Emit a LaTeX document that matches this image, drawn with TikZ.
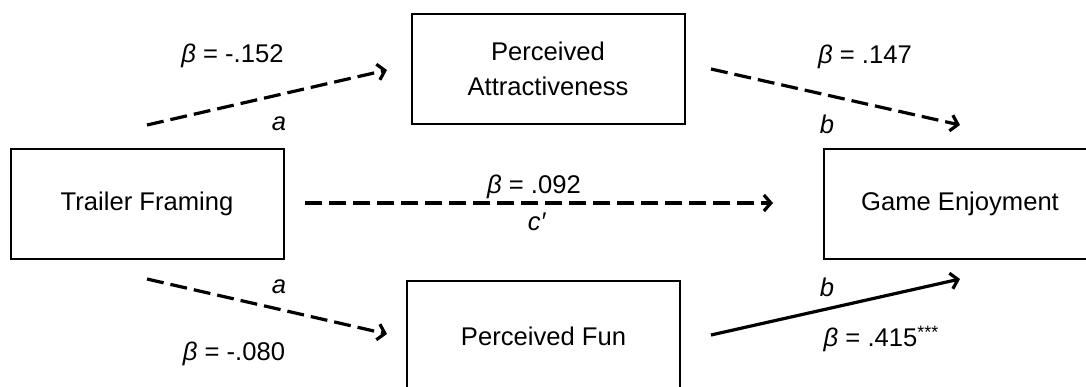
\documentclass[tikz,border=0pt]{standalone}
\usepackage{fontspec}
\setmainfont{Liberation Sans}
\usetikzlibrary{arrows.meta}
\tikzset{
  var/.style={draw, line width=1pt, minimum width=136.5pt, minimum height=55pt, inner sep=0pt, align=center},
  effect/.style={line width=1.6pt, line cap=butt, -{Straight Barb[length=3.5pt,width=8pt,line join=miter]}},
  nseffect/.style={effect, dash pattern=on 8.5pt off 3.5pt},
  coef/.style={inner sep=0pt},
  >=Stealth
}

\begin{document}
\begin{tikzpicture}[x=0.5pt, y=-0.5pt, every node/.style={font=\fontsize{12.8}{17.5}\selectfont}]
  \clip (0,0) rectangle (1086,386);
  % variables
  \node[var] (tf) at (147,203.5) {Trailer Framing};
  \node[var] (pa) at (548,69) {Perceived\\Attractiveness};
  \node[var] (pf) at (543.5,336) {Perceived Fun};
  \node[var] (ge) at (960,203.5) {Game Enjoyment};
  % path ends
  \coordinate (a1s) at (147,125);
  \coordinate (a1e) at (387,70);
  \coordinate (b1s) at (711,69);
  \coordinate (b1e) at (960,125);
  \coordinate (a2s) at (147,279);
  \coordinate (a2e) at (387,334);
  \coordinate (b2s) at (711,335);
  \coordinate (b2e) at (960,279);
  \coordinate (cs) at (305,203);
  \coordinate (ce) at (773,203);
  \draw[nseffect] (a1s) -- (a1e);
  \draw[nseffect] (b1s) -- (b1e);
  \draw[nseffect] (a2s) -- (a2e);
  \draw[effect] (b2s) -- (b2e);
  \draw[nseffect] (cs) -- (ce);
  % coefficients
  \node[coef] (ka1) at (232.5,56) {\textit{β} = -.152};
  \node[coef] (ka1l) at (279,124) {\textit{a}};
  \node[coef] (kb1) at (865,57) {\textit{β} = .147};
  \node[coef] (kb1l) at (827,124) {\textit{b}};
  \node[coef] (ka2) at (234,354) {\textit{β} = -.080};
  \node[coef] (ka2l) at (279,287) {\textit{a}};
  \node[coef] (kb2) at (881.5,339) {\textit{β} = .415\textsuperscript{***}};
  \node[coef] (kb2l) at (827,287) {\textit{b}};
  \node[coef] (kc) at (534,187) {\textit{β} = .092};
  \node[coef] (kcl) at (537,222) {\textit{c′}};
\end{tikzpicture}
\end{document}
